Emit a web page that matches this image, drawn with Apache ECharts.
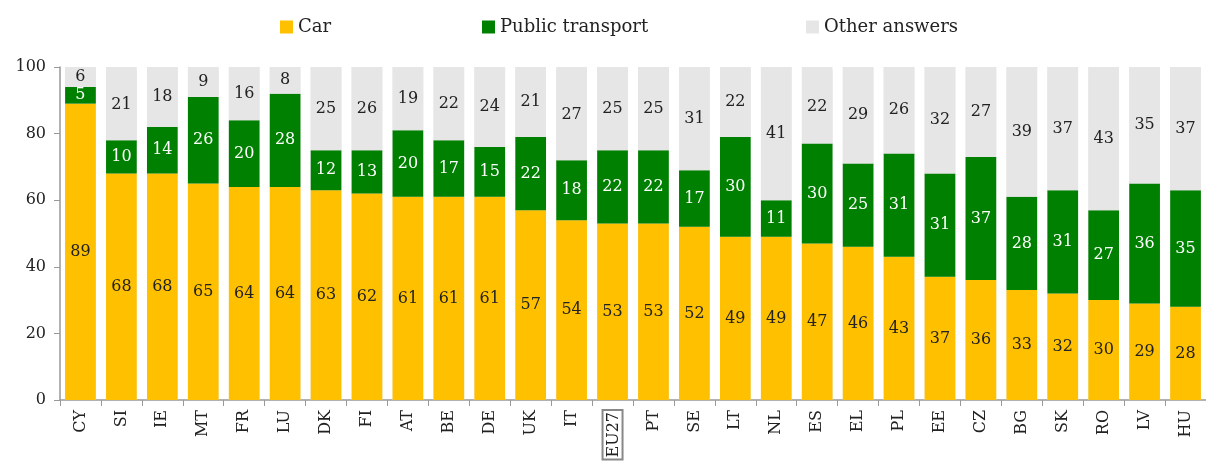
<!DOCTYPE html>
<html>
<head>
<meta charset="utf-8">
<script src="https://cdn.jsdelivr.net/npm/echarts@6/dist/echarts.min.js"></script>
<style>
  html, body { margin: 0; padding: 0; background: #fff; }
  #chart { width: 1206px; height: 468px; }
</style>
</head>
<body>
<div id="chart"></div>
<script>
const countries = ['CY', 'SI', 'IE', 'MT', 'FR', 'LU', 'DK', 'FI', 'AT', 'BE', 'DE', 'UK', 'IT', 'EU27',
  'PT', 'SE', 'LT', 'NL', 'ES', 'EL', 'PL', 'EE', 'CZ', 'BG', 'SK', 'RO', 'LV', 'HU']
const car = [89, 68, 68, 65, 64, 64, 63, 62, 61, 61, 61, 57, 54, 53, 53, 52, 49, 49, 47, 46, 43, 37, 36, 33, 32, 30, 29, 28]
const publicTransport = [5, 10, 14, 26, 20, 28, 12, 13, 20, 17, 15, 22, 18, 22, 22, 17, 30, 11, 30, 25, 31, 31, 37, 28, 31, 27, 36, 35]
const otherAnswers = [6, 21, 18, 9, 16, 8, 25, 26, 19, 22, 24, 21, 27, 25, 25, 31, 22, 41, 22, 29, 26, 32, 27, 39, 37, 43, 35, 37]
const yTicks = [0, 20, 40, 60, 80, 100]

const serif = 'DejaVu Serif'
const chart = echarts.init(document.getElementById('chart'))

const labelStyle = (color) => ({
  show: true,
  position: 'inside',
  color: color,
  fontFamily: serif,
  fontSize: 16
})

// one legend per item so each sits where it does in the original
const legendAt = (name, left) => ({
  top: 18,
  left: left,
  padding: 0,
  itemWidth: 13,
  itemHeight: 13,
  icon: 'rect',
  textStyle: { fontFamily: serif, fontSize: 18, color: '#222' },
  data: [name]
})

chart.setOption({
  animation: false,
  legend: [
    legendAt('Car', 280),
    legendAt('Public transport', 482),
    legendAt('Other answers', 806)
  ],
  grid: { left: 60, right: -8, top: 67, bottom: 68 },
  xAxis: {
    type: 'category',
    data: countries,
    axisLine: { lineStyle: { color: '#999', width: 1.5 } },
    axisTick: { show: true, length: 6, lineStyle: { color: '#999' } },
    axisLabel: {
      rotate: 90,
      margin: 10,
      color: '#222',
      fontFamily: serif,
      fontSize: 16,
      formatter: (v) => v === 'EU27' ? '{box|' + v + '}' : v,
      rich: {
        box: {
          fontFamily: serif,
          fontSize: 16,
          color: '#222',
          borderColor: '#888',
          borderWidth: 2,
          padding: [3, 2, 1, 2]
        }
      }
    }
  },
  yAxis: {
    type: 'value',
    min: yTicks[0],
    max: yTicks[yTicks.length - 1],
    interval: yTicks[1] - yTicks[0],
    splitLine: { show: false },
    axisLine: { show: true, lineStyle: { color: '#999', width: 1.5 } },
    axisTick: { show: true, length: 6, lineStyle: { color: '#999' } },
    axisLabel: { color: '#222', fontFamily: serif, fontSize: 16, margin: 14 }
  },
  series: [
    {
      name: 'Car',
      type: 'bar',
      stack: 'total',
      barCategoryGap: '25%',
      data: car,
      itemStyle: { color: '#FFC000' },
      showBackground: true,
      backgroundStyle: { color: '#E6E6E6' },
      label: labelStyle('#222')
    },
    {
      name: 'Public transport',
      type: 'bar',
      stack: 'total',
      data: publicTransport,
      itemStyle: { color: '#008000' },
      label: labelStyle('#fff')
    },
    {
      name: 'Other answers',
      type: 'bar',
      stack: 'total',
      data: otherAnswers,
      itemStyle: { color: '#E6E6E6' },
      label: labelStyle('#222')
    }
  ]
})
</script>
</body>
</html>
